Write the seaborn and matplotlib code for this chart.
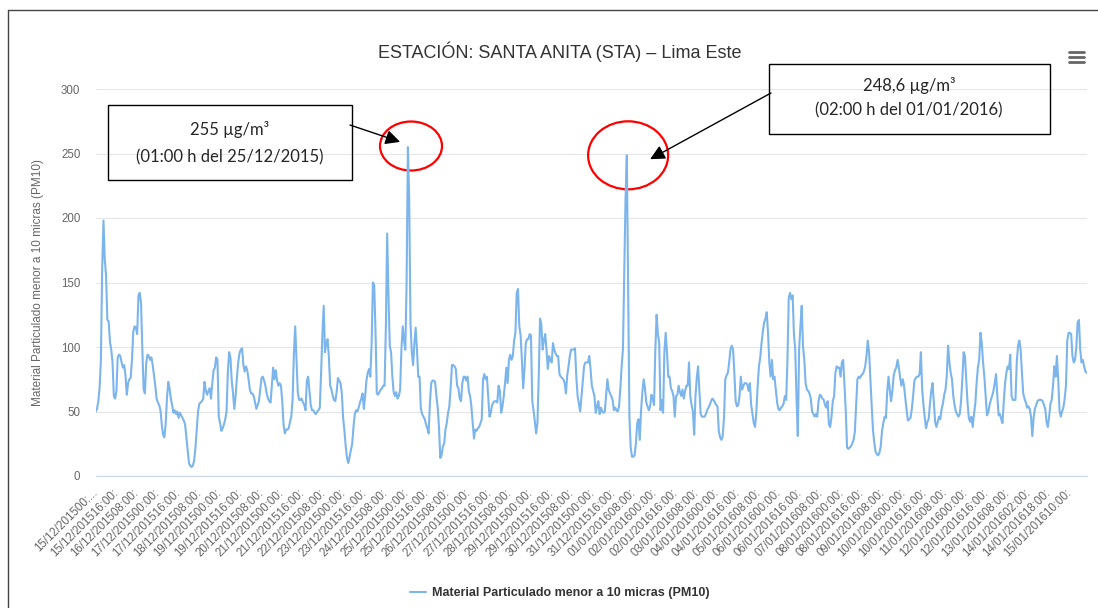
import numpy as np
import pandas as pd
import matplotlib
matplotlib.use("Agg")
import matplotlib.pyplot as plt
from matplotlib.patches import Ellipse, Rectangle
from matplotlib.lines import Line2D
import seaborn as sns

# PM10 horario (µg/m3), 15/12/2015 00:00 -> 15/01/2016 (una fila por día)
pm10 = [
    50, 52, 58, 68, 90, 160, 198, 168, 155, 121, 120, 104, 98, 88, 62, 60, 66, 92, 94, 93, 88, 84, 86, 78,
    63, 72, 75, 76, 90, 112, 116, 115, 110, 140, 142, 134, 98, 67, 64, 88, 94, 93, 90, 92, 86, 78, 70, 60,
    57, 55, 51, 40, 32, 30, 40, 60, 73, 68, 60, 55, 49, 51, 48, 50, 45, 49, 47, 45, 43, 40, 30, 20,
    10, 8, 7, 8, 12, 22, 36, 50, 56, 57, 58, 60, 73, 66, 63, 66, 68, 60, 72, 82, 84, 92, 90, 46,
    41, 35, 37, 40, 44, 50, 80, 96, 92, 74, 64, 52, 62, 76, 88, 95, 98, 99, 86, 81, 85, 82, 75, 67,
    64, 64, 62, 57, 52, 55, 58, 67, 76, 77, 74, 70, 64, 60, 58, 57, 70, 84, 75, 82, 74, 70, 72, 70,
    58, 40, 33, 36, 36, 37, 42, 46, 60, 95, 116, 90, 65, 59, 59, 60, 57, 55, 51, 74, 77, 66, 55, 51,
    51, 49, 48, 50, 51, 53, 80, 110, 132, 96, 103, 106, 92, 70, 67, 62, 59, 58, 65, 76, 74, 72, 64, 45,
    35, 23, 14, 10, 15, 20, 25, 38, 48, 51, 50, 53, 57, 60, 64, 52, 62, 74, 80, 83, 77, 103, 150, 148,
    112, 64, 63, 65, 67, 68, 70, 70, 116, 188, 140, 101, 96, 77, 65, 62, 65, 60, 62, 67, 98, 116, 105, 98,
    150, 255, 215, 118, 96, 86, 103, 115, 98, 77, 77, 52, 48, 46, 44, 40, 37, 33, 57, 72, 74, 74, 73, 62,
    53, 38, 14, 16, 23, 25, 36, 41, 49, 54, 68, 86, 86, 85, 83, 70, 68, 60, 58, 72, 77, 77, 74, 77,
    66, 62, 54, 41, 29, 36, 35, 37, 38, 41, 44, 75, 79, 75, 77, 62, 46, 49, 55, 57, 58, 58, 57, 70,
    66, 49, 54, 62, 72, 84, 72, 90, 94, 90, 93, 105, 111, 142, 145, 116, 109, 90, 68, 83, 103, 106, 106, 110,
    109, 58, 51, 42, 33, 41, 77, 122, 118, 98, 105, 110, 98, 83, 93, 90, 88, 103, 98, 95, 93, 93, 79, 77,
    76, 75, 72, 64, 78, 85, 93, 98, 98, 98, 99, 77, 62, 56, 50, 62, 75, 85, 88, 88, 88, 93, 83, 70,
    66, 62, 49, 54, 58, 48, 53, 50, 49, 50, 62, 75, 67, 64, 62, 59, 51, 53, 51, 50, 54, 68, 85, 98,
    155, 215, 248.6, 150, 46, 22, 15, 15, 16, 25, 41, 44, 28, 51, 65, 75, 68, 57, 54, 51, 54, 63, 60, 55,
    98, 125, 110, 103, 51, 59, 49, 96, 111, 96, 77, 77, 68, 66, 62, 46, 62, 63, 70, 65, 62, 67, 60, 66,
    70, 70, 88, 62, 55, 50, 32, 62, 76, 85, 67, 48, 46, 46, 46, 48, 51, 53, 55, 58, 60, 59, 57, 55,
    54, 35, 30, 28, 31, 45, 75, 78, 80, 88, 98, 101, 98, 80, 58, 54, 55, 62, 77, 67, 70, 72, 72, 71,
    66, 72, 55, 48, 41, 38, 50, 70, 85, 92, 103, 112, 119, 122, 127, 111, 88, 77, 90, 75, 77, 67, 57, 52,
    51, 53, 54, 56, 62, 59, 90, 138, 142, 137, 140, 110, 98, 60, 31, 98, 116, 132, 101, 90, 72, 67, 66, 64,
    60, 50, 48, 46, 48, 46, 58, 63, 62, 60, 59, 55, 53, 58, 40, 38, 46, 58, 62, 80, 85, 84, 84, 77,
    88, 90, 70, 51, 22, 21, 22, 23, 25, 28, 34, 55, 75, 77, 76, 78, 79, 81, 85, 93, 105, 96, 75, 55,
    36, 26, 19, 17, 16, 18, 23, 35, 41, 46, 45, 65, 77, 67, 58, 66, 78, 82, 84, 90, 84, 76, 70, 75,
    70, 60, 51, 43, 44, 45, 52, 62, 74, 76, 77, 77, 79, 96, 67, 55, 45, 37, 42, 44, 56, 66, 72, 57,
    42, 38, 42, 46, 44, 52, 56, 63, 67, 78, 101, 88, 80, 75, 62, 55, 50, 48, 46, 48, 58, 75, 96, 93,
    75, 57, 45, 42, 46, 38, 48, 56, 72, 84, 90, 111, 103, 88, 77, 62, 47, 49, 55, 59, 62, 66, 72, 79,
    62, 47, 48, 44, 41, 58, 72, 80, 85, 83, 94, 62, 59, 59, 59, 88, 101, 105, 98, 80, 64, 60, 57, 53,
    54, 52, 46, 31, 45, 52, 55, 58, 59, 59, 59, 58, 55, 52, 42, 38, 46, 56, 59, 70, 85, 77, 93, 75,
    51, 46, 50, 53, 60, 70, 105, 111, 111, 110, 93, 88, 90, 100, 119, 121, 98, 88, 90, 85, 81, 80,
]

# etiquetas del eje x (cada 16 registros)
tick_labels = [
    "15/12/201500:...", "15/12/201516:00:", "16/12/201508:00:", "17/12/201500:00:",
    "17/12/201516:00:", "18/12/201508:00:", "19/12/201500:00:", "19/12/201516:00:",
    "20/12/201508:00:", "21/12/201500:00:", "21/12/201516:00:", "22/12/201508:00:",
    "23/12/201500:00:", "23/12/201516:00:", "24/12/201508:00:", "25/12/201500:00:",
    "25/12/201516:00:", "26/12/201508:00:", "27/12/201500:00:", "27/12/201516:00:",
    "28/12/201508:00:", "29/12/201500:00:", "29/12/201516:00:", "30/12/201508:00:",
    "31/12/201500:00:", "31/12/201516:00:", "01/01/201608:00:", "02/01/201600:00:",
    "02/01/201616:00:", "03/01/201608:00:", "04/01/201600:00:", "04/01/201616:00:",
    "05/01/201608:00:", "06/01/201600:00:", "06/01/201616:00:", "07/01/201608:00:",
    "08/01/201600:00:", "08/01/201616:00:", "09/01/201608:00:", "10/01/201600:00:",
    "10/01/201616:00:", "11/01/201608:00:", "12/01/201600:00:", "12/01/201616:00:",
    "13/01/201608:00:", "14/01/201602:00:", "14/01/201618:00:", "15/01/201610:00:",
]
tick_step = 16
y_ticks = [0, 50, 100, 150, 200, 250, 300]

# picos señalados
peak1_idx, peak1_val = 241, 255
peak2_idx, peak2_val = 410, 248.6

serie = "Material Particulado menor a 10 micras (PM10)"
df = pd.DataFrame({"idx": np.arange(len(pm10)), "pm10": pm10})

sns.set_theme(style="white")
plt.rcParams["font.family"] = ["Liberation Sans", "DejaVu Sans"]

W, H = 1098, 608
fig = plt.figure(figsize=(W / 100, H / 100), dpi=100)
fig.patch.set_facecolor("white")

def fx(x):
    return x / W

def fy(y):
    return 1 - y / H

ax = fig.add_axes([fx(95.7), fy(476), (1086.7 - 95.7) / W, (476 - 89) / H])
sns.lineplot(data=df, x="idx", y="pm10", ax=ax, color="#7cb5ec", linewidth=1.5, label=serie)

ax.set_xlim(0, len(pm10) - 1)
ax.set_ylim(0, 300)
ax.set_yticks(y_ticks)
ax.set_yticklabels([str(v) for v in y_ticks])
ax.set_xticks(np.arange(0, len(pm10), tick_step)[:len(tick_labels)])
ax.set_xticklabels(tick_labels, rotation=45, ha="right", va="center", rotation_mode="anchor")

ax.grid(axis="y", color="#e6e6e6", linewidth=0.8)
ax.grid(axis="x", visible=False)
for s in ["top", "right", "left"]:
    ax.spines[s].set_visible(False)
ax.spines["bottom"].set_color("#ccd6eb")
ax.spines["bottom"].set_linewidth(0.8)
ax.tick_params(axis="x", length=7, color="#ccd6eb", width=0.8, pad=4, labelsize=8.3, labelcolor="#666666")
ax.tick_params(axis="y", length=0, pad=11, labelsize=8.3, labelcolor="#666666")

ax.set_xlabel("")
ax.set_ylabel(serie, fontsize=8.5, color="#666666")
ax.yaxis.set_label_coords((44 - 95.7) / (1086.7 - 95.7), 0.5)

leg = ax.legend(loc="center", bbox_to_anchor=(fx(560), fy(593)), bbox_transform=fig.transFigure,
                frameon=False, handlelength=1.3, handletextpad=0.5,
                prop={"weight": "bold", "size": 9})
for t in leg.get_texts():
    t.set_color("#333333")

fig.text(fx(560), fy(52), "ESTACIÓN: SANTA ANITA (STA) – Lima Este",
         ha="center", va="center", fontsize=13, color="#333333")

# icono de menú
for yy in (52, 57, 62):
    fig.add_artist(Line2D([fx(1069), fx(1084)], [fy(yy), fy(yy)], color="#666666",
                          linewidth=2, solid_capstyle="round"))

# marco de la captura
fig.add_artist(Line2D([fx(8), fx(8)], [fy(10), 0], color="#444444", linewidth=1))
fig.add_artist(Line2D([fx(8), fx(1098)], [fy(10), fy(10)], color="#444444", linewidth=1))

# anotaciones
px_x = (1086.7 - 95.7) / (len(pm10) - 1)
px_y = 387 / 300
ann_font = ["Lato", "DejaVu Sans"]

ax.add_patch(Ellipse((peak1_idx + 2.4, peak1_val + 0.8), 62 / px_x, 49 / px_y,
                     fill=False, edgecolor="#ff0000", linewidth=1.6, clip_on=False))
ax.add_patch(Ellipse((peak2_idx + 1, peak2_val), 80 / px_x, 68 / px_y,
                     fill=False, edgecolor="#ff0000", linewidth=1.6, clip_on=False))

fig.add_artist(Rectangle((fx(108), fy(180)), fx(352) - fx(108), fy(105) - fy(180),
                         fill=False, edgecolor="black", linewidth=1, transform=fig.transFigure))
fig.text(fx(230), fy(130), f"{peak1_val} µg/m³", ha="center", va="center", fontsize=12, family=ann_font)
fig.text(fx(230), fy(157), "(01:00 h del 25/12/2015)", ha="center", va="center", fontsize=12, family=ann_font)

fig.add_artist(Rectangle((fx(769), fy(134)), fx(1050) - fx(769), fy(64) - fy(134),
                         fill=False, edgecolor="black", linewidth=1, transform=fig.transFigure))
fig.text(fx(909), fy(85), f"{peak2_val:.1f}".replace(".", ",") + " µg/m³", ha="center", va="center",
         fontsize=12, family=ann_font)
fig.text(fx(909), fy(110), "(02:00 h del 01/01/2016)", ha="center", va="center", fontsize=12, family=ann_font)

arrow = dict(arrowstyle="-|>", color="black", lw=1, mutation_scale=22, shrinkA=0, shrinkB=0)
ax.annotate("", xy=(peak1_idx - 6, peak1_val + 4), xycoords="data",
            xytext=(fx(350), fy(125)), textcoords="figure fraction", arrowprops=arrow)
ax.annotate("", xy=(peak2_idx + 18, peak2_val - 3), xycoords="data",
            xytext=(fx(771), fy(93)), textcoords="figure fraction", arrowprops=arrow)

fig.savefig("out.png", dpi=100)
